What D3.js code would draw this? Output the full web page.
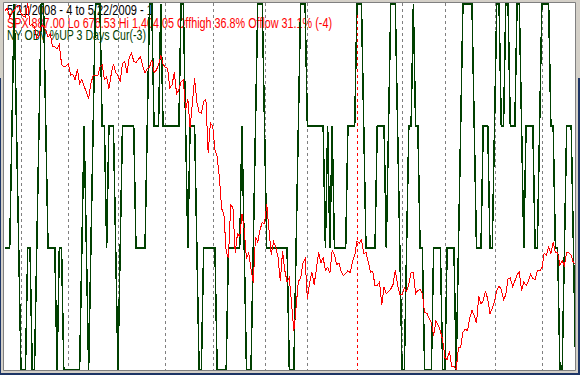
<!DOCTYPE html>
<html lang="en">
<head>
<meta charset="utf-8">
<title>SPX vs NY OBV %UP</title>
<script src="https://d3js.org/d3.v7.min.js"></script>
<style>
  body { margin: 0; background: #1d3566; }
  svg { display: block; }
</style>
</head>
<body>
<div id="chart"></div>
<script>
// SPX daily closes, 5/21/2008 .. 5/22/2009 (one value per trading day)
var spx = [
  1390.71, 1394.35, 1375.93, 1385.35, 1390.84, 1398.26, 1400.38,
  1385.67, 1377.65, 1377.20, 1404.05, 1360.68, 1361.76, 1358.44, 1335.49, 1339.87, 1360.03, 1360.14,
  1350.93, 1337.81, 1342.83, 1317.93, 1318.00, 1314.29, 1321.97, 1283.15, 1278.38, 1280.00,
  1284.91, 1261.52, 1262.90, 1252.31, 1273.70, 1244.69, 1253.39, 1239.49, 1228.30, 1214.91, 1245.36,
  1260.32, 1260.68, 1260.00, 1277.00, 1282.19, 1252.54, 1257.76, 1234.37, 1263.20, 1284.26, 1267.38,
  1260.31, 1249.01, 1284.88, 1289.19, 1266.07, 1296.32, 1305.32, 1289.59, 1285.83, 1292.93, 1298.20,
  1278.60, 1266.69, 1274.54, 1277.72, 1292.20, 1266.84, 1271.51, 1281.66, 1300.68, 1282.83,
  1277.58, 1274.98, 1236.83, 1242.31, 1267.79, 1224.51, 1232.04, 1249.05, 1251.70, 1192.70, 1213.60,
  1156.39, 1206.51, 1255.08, 1207.09, 1188.22, 1185.87, 1209.18, 1213.27, 1106.39, 1166.36,
  1161.06, 1114.28, 1099.23, 1056.89, 996.23, 984.94, 909.92, 899.22, 1003.35, 998.01, 907.84,
  946.43, 940.55, 985.40, 955.05, 896.78, 908.11, 876.77, 848.92, 940.51, 930.09, 954.09, 968.75,
  966.30, 1005.75, 952.77, 904.88, 930.99, 919.21, 898.95, 852.30, 911.29, 873.29, 850.75,
  859.12, 806.58, 752.44, 800.03, 851.81, 857.39, 887.68, 896.24,
  816.21, 848.81, 870.74, 845.22, 876.07, 909.70, 888.67, 899.24, 873.59, 879.73, 868.57,
  913.18, 904.42, 885.28, 887.88, 871.63, 863.16, 868.15, 872.80, 869.42, 890.64, 903.25,
  931.80, 927.45, 934.70, 906.65, 909.73, 890.35, 870.26, 871.79, 842.62, 843.74,
  850.12, 805.22, 840.24, 827.50, 831.95, 836.57, 845.71, 874.09, 845.14, 825.88,
  825.44, 838.51, 832.23, 845.85, 868.60, 869.89, 827.16, 833.74, 835.19, 826.84,
  789.17, 788.42, 778.94, 770.05, 743.33, 773.14, 764.90, 752.83, 735.09,
  700.82, 696.33, 712.87, 682.55, 683.38, 676.53, 719.60, 721.36, 750.74, 756.55, 753.89,
  778.12, 794.35, 784.04, 768.54, 822.92, 806.12, 813.88, 832.86, 815.94, 787.53, 797.87,
  811.08, 834.38, 842.50, 835.48, 815.55, 825.16, 856.56, 858.73, 841.50, 852.06, 865.30,
  869.60, 832.39, 850.08, 843.55, 851.92, 866.23, 857.51, 855.16, 873.64, 872.81,
  877.52, 907.24, 903.80, 919.53, 907.39, 929.23, 909.24, 908.35, 883.92, 893.07, 882.88,
  909.71, 908.13, 903.47, 888.33, 887.00
];

// NY OBV %UP: up days out of the last 3, same days as spx
var obvUp = [
  1,1,1,2,3,2,1,0,0,0,
  1,1,0,0,1,2,3,3,2,1,
  1,1,1,0,1,1,0,0,0,0,
  0,0,0,0,1,2,1,0,1,2,
  3,3,3,2,2,1,2,2,2,1,
  0,1,2,2,2,2,2,2,1,1,
  1,1,1,2,3,3,2,2,2,3,
  2,2,2,2,2,2,2,2,3,3,
  2,1,2,2,2,1,0,0,1,1,
  1,1,1,1,0,0,0,0,0,1,
  1,1,1,1,1,2,1,0,0,0,
  1,2,3,3,3,2,1,1,1,1,
  1,1,1,1,1,1,0,0,0,1,
  2,3,3,3,2,2,2,2,2,2,
  2,2,1,2,1,2,1,1,1,1,
  1,1,2,2,2,2,3,3,3,2,
  1,1,1,1,1,2,2,2,2,1,
  2,3,3,3,2,1,0,0,1,2,
  2,3,2,2,1,1,0,0,0,0,
  1,1,1,1,0,0,1,1,1,1,
  0,1,2,3,3,3,3,3,2,1,
  1,1,2,2,2,1,1,2,3,3,
  2,2,3,3,2,2,2,3,3,2,
  1,2,2,2,2,1,1,2,3,3,
  3,3,2,2,1,1,0,0,1,2,
  2,2,1,0
];

// first trading day of each month (index into the series); 156 is the new year
var monthStarts = [7, 28, 50, 71, 92, 115, 134, 156, 176, 195, 217, 238];
var yearStart = 156;

var titleText = "5/21/2008 - 4 to 5/22/2009 - 1";
var spxText = "SPX 887.00 Lo 676.53 Hi 1,404.05  Offhigh 36.8%  Offlow 31.1% (-4)";
var obvText = "NY OBV %UP  3 Days Cur(-3)";

var W = 580, H = 375;
var plot = {left: 4, top: 3, right: 575, bottom: 370};

var svg = d3.select("#chart").append("svg")
    .attr("width", W)
    .attr("height", H);

// window frame
svg.append("rect").attr("x", 0).attr("y", 0).attr("width", W).attr("height", H).attr("fill", "#1d3566");
svg.append("rect").attr("x", 0).attr("y", 0).attr("width", W).attr("height", 78).attr("fill", "#d4d0c8");
svg.append("rect").attr("x", 1).attr("y", 0).attr("width", 577).attr("height", 373).attr("fill", "#d4d0c8");
svg.append("rect")
    .attr("x", plot.left).attr("y", plot.top)
    .attr("width", plot.right - plot.left).attr("height", plot.bottom - plot.top)
    .attr("fill", "white");
svg.append("path")
    .attr("d", "M3.5,370.5V2.5H575.5V370.5H3.5")
    .attr("fill", "none")
    .attr("stroke", "#808080")
    .attr("stroke-width", 1);

svg.append("clipPath").attr("id", "clip")
  .append("rect")
    .attr("x", plot.left).attr("y", plot.top)
    .attr("width", plot.right - plot.left).attr("height", plot.bottom - plot.top);

var x = d3.scaleLinear()
    .domain([0, spx.length - 1])
    .range([5.2, 575.7]);

var ySpx = d3.scaleLinear()
    .domain([d3.min(spx), d3.max(spx)])
    .range([369.5, 3.5]);

var yObv = d3.scaleLinear()
    .domain([0, 3])
    .range([370, 4]);

// labels
var labels = [
  {text: titleText, color: "#000000", y: 15, len: 146},
  {text: spxText, color: "#ff0000", y: 27.5, len: 325},
  {text: obvText, color: "#004000", y: 40, len: 139}
];
svg.selectAll("text.lbl")
  .data(labels)
  .enter().append("text")
    .attr("class", "lbl")
    .attr("x", 7)
    .attr("y", function(d) { return d.y; })
    .attr("textLength", function(d) { return d.len; })
    .attr("lengthAdjust", "spacingAndGlyphs")
    .attr("fill", function(d) { return d.color; })
    .style("font-family", "'Liberation Sans', Arial, sans-serif")
    .style("font-size", "14px")
    .text(function(d) { return d.text; });

var g = svg.append("g").attr("clip-path", "url(#clip)");

// month grid lines
g.selectAll("line.grid")
  .data(monthStarts)
  .enter().append("line")
    .attr("class", "grid")
    .attr("x1", function(d) { return Math.round(x(d)) + 0.5; })
    .attr("x2", function(d) { return Math.round(x(d)) + 0.5; })
    .attr("y1", plot.top)
    .attr("y2", plot.bottom)
    .attr("stroke", function(d) { return d == yearStart ? "#ff0000" : "#808080"; })
    .attr("stroke-width", 1)
    .attr("stroke-dasharray", "3,3");

// NY OBV %UP
g.append("path")
  .datum(obvUp)
    .attr("fill", "none")
    .attr("stroke", "#004000")
    .attr("stroke-width", 1.5)
    .attr("shape-rendering", "crispEdges")
    .attr("d", d3.line()
      .x(function(d, i) { return x(i); })
      .y(function(d) { return yObv(d); }));

// SPX
g.append("path")
  .datum(spx)
    .attr("fill", "none")
    .attr("stroke", "#ff0000")
    .attr("stroke-width", 1)
    .attr("shape-rendering", "crispEdges")
    .attr("d", d3.line()
      .x(function(d, i) { return x(i); })
      .y(function(d) { return ySpx(d); }));
</script>
</body>
</html>
